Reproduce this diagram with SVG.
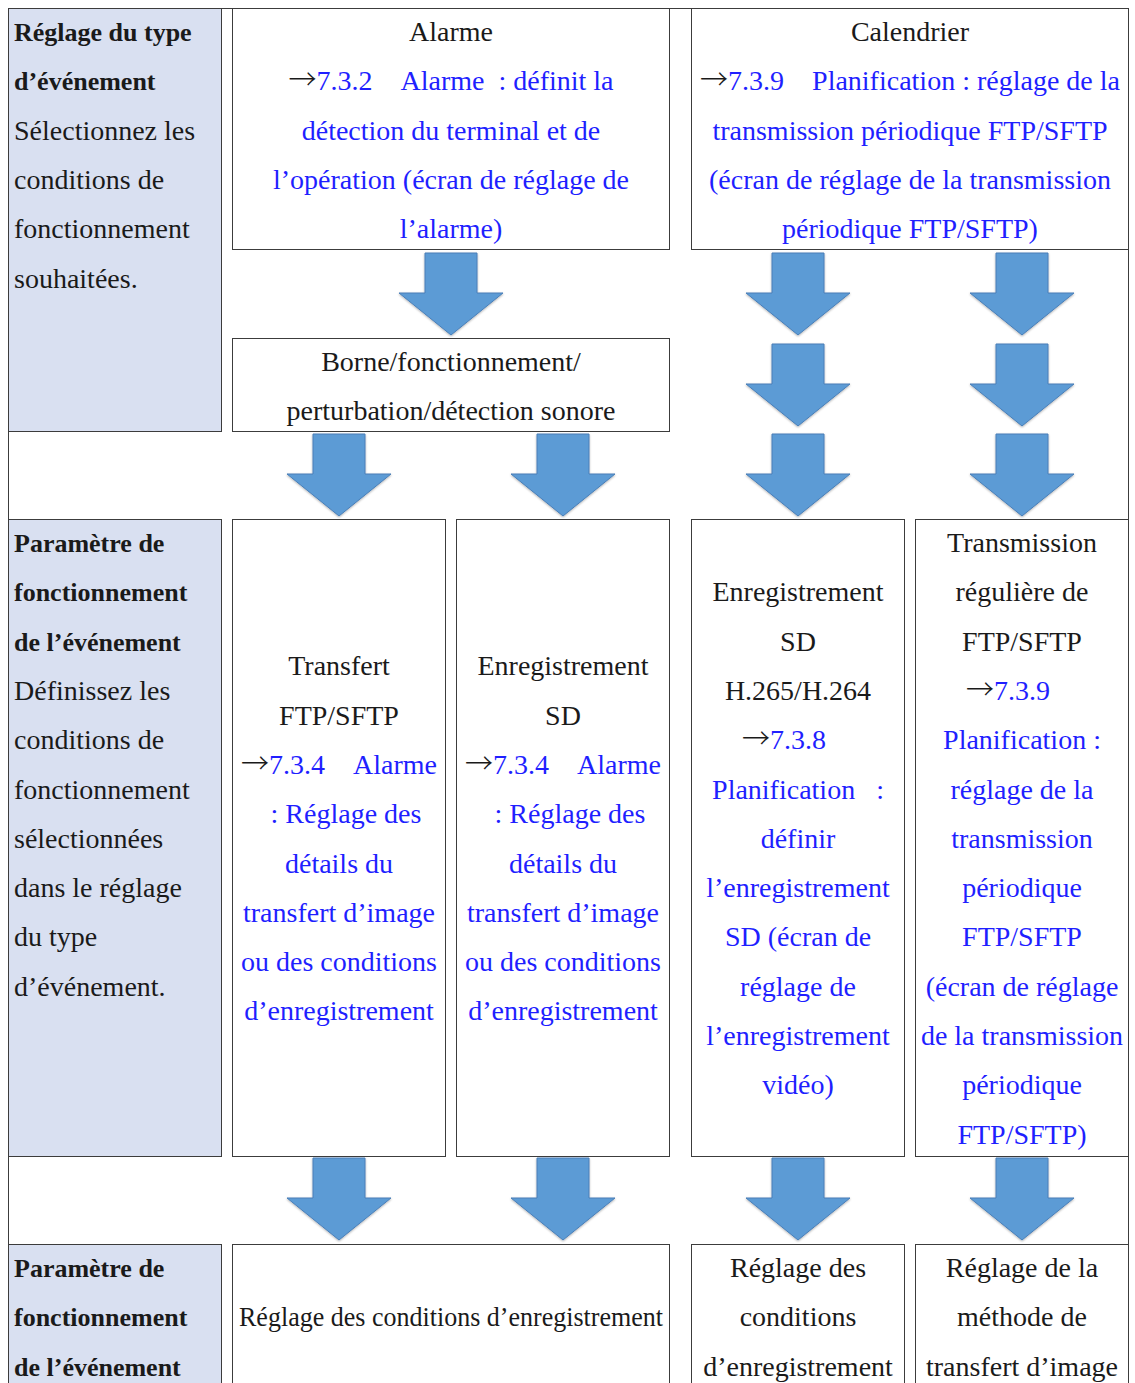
<svg xmlns="http://www.w3.org/2000/svg" xmlns:xlink="http://www.w3.org/1999/xlink" width="1135" height="1383" viewBox="0 0 1135 1383">
<style>
.t{font-family:"Liberation Serif","DejaVu Serif",serif;font-size:28px;fill:#1a1a1a}
.c{text-anchor:middle}
.b{font-weight:bold;font-size:26px}
.bl{fill:#1f1fff}
.ar{font-family:"Noto Sans CJK JP","DejaVu Sans",sans-serif;font-weight:300;fill:#1a1a1a}
.box{fill:#fff;stroke:#3c3c3c;stroke-width:1}
.hdr{fill:#D9E0F1;stroke:#3c3c3c;stroke-width:1}
.arrow{fill:#5B9BD5;stroke:#4A7FB8;stroke-width:1;filter:url(#sh)}
</style>
<defs>
<filter id="sh" x="-20%" y="-20%" width="140%" height="140%">
<feDropShadow dx="0" dy="1" stdDeviation="1" flood-color="#000" flood-opacity="0.3"/>
</filter>
<path id="arr" d="M-26 0H26V40H52L0 82L-52 40H-26Z"/>
</defs>
<rect width="1135" height="1383" fill="#fff"/>
<path d="M8.5 1383V8.5H1128.5V1383" fill="none" stroke="#3c3c3c" stroke-width="1"/>

<g id="hdr1">
<rect class="hdr" x="8.5" y="8.5" width="213" height="423"/>
<text class="t b" x="14" y="41">Réglage du type</text>
<text class="t b" x="14" y="90.3">d’événement</text>
<text class="t" x="14" y="139.6">Sélectionnez les</text>
<text class="t" x="14" y="188.9">conditions de</text>
<text class="t" x="14" y="238.2">fonctionnement</text>
<text class="t" x="14" y="287.5">souhaitées.</text>
</g>

<g id="alarme">
<rect class="box" x="232.5" y="8.5" width="437" height="241"/>
<text class="t c" x="451" y="41">Alarme</text>
<text class="t c" x="451" y="90.3"><tspan class="ar">→</tspan><tspan class="bl">7.3.2&#160;&#160;&#160;&#160;Alarme&#160;&#160;: définit la</tspan></text>
<text class="t c bl" x="451" y="139.6">détection du terminal et de</text>
<text class="t c bl" x="451" y="188.9">l’opération (écran de réglage de</text>
<text class="t c bl" x="451" y="238.2">l’alarme)</text>
</g>

<g id="calendrier">
<rect class="box" x="691.5" y="8.5" width="437" height="241"/>
<text class="t c" x="910" y="41">Calendrier</text>
<text class="t c" x="910" y="90.3"><tspan class="ar">→</tspan><tspan class="bl">7.3.9&#160;&#160;&#160;&#160;Planification : réglage de la</tspan></text>
<text class="t c bl" x="910" y="139.6">transmission périodique FTP/SFTP</text>
<text class="t c bl" x="910" y="188.9">(écran de réglage de la transmission</text>
<text class="t c bl" x="910" y="238.2">périodique FTP/SFTP)</text>
</g>

<g id="borne">
<rect class="box" x="232.5" y="338.5" width="437" height="93"/>
<text class="t c" x="451" y="371">Borne/fonctionnement/</text>
<text class="t c" x="451" y="420.3">perturbation/détection sonore</text>
</g>

<g id="hdr2">
<rect class="hdr" x="8.5" y="519.5" width="213" height="637"/>
<text class="t b" x="14" y="552">Paramètre de</text>
<text class="t b" x="14" y="601.3">fonctionnement</text>
<text class="t b" x="14" y="650.6">de l’événement</text>
<text class="t" x="14" y="699.9">Définissez les</text>
<text class="t" x="14" y="749.2">conditions de</text>
<text class="t" x="14" y="798.5">fonctionnement</text>
<text class="t" x="14" y="847.8">sélectionnées</text>
<text class="t" x="14" y="897.1">dans le réglage</text>
<text class="t" x="14" y="946.4">du type</text>
<text class="t" x="14" y="995.7">d’événement.</text>
</g>

<g id="transfert">
<rect class="box" x="232.5" y="519.5" width="213" height="637"/>
<text class="t c" x="339" y="675.3">Transfert</text>
<text class="t c" x="339" y="724.6">FTP/SFTP</text>
<text class="t c" x="339" y="773.9"><tspan class="ar">→</tspan><tspan class="bl">7.3.4&#160;&#160;&#160;&#160;Alarme</tspan></text>
<text class="t c bl" x="346" y="823.2">: Réglage des</text>
<text class="t c bl" x="339" y="872.5">détails du</text>
<text class="t c bl" x="339" y="921.8">transfert d’image</text>
<text class="t c bl" x="339" y="971.1">ou des conditions</text>
<text class="t c bl" x="339" y="1020.4">d’enregistrement</text>
</g>

<g id="enreg-sd">
<rect class="box" x="456.5" y="519.5" width="213" height="637"/>
<text class="t c" x="563" y="675.3">Enregistrement</text>
<text class="t c" x="563" y="724.6">SD</text>
<text class="t c" x="563" y="773.9"><tspan class="ar">→</tspan><tspan class="bl">7.3.4&#160;&#160;&#160;&#160;Alarme</tspan></text>
<text class="t c bl" x="570" y="823.2">: Réglage des</text>
<text class="t c bl" x="563" y="872.5">détails du</text>
<text class="t c bl" x="563" y="921.8">transfert d’image</text>
<text class="t c bl" x="563" y="971.1">ou des conditions</text>
<text class="t c bl" x="563" y="1020.4">d’enregistrement</text>
</g>

<g id="enreg-sd-h265">
<rect class="box" x="691.5" y="519.5" width="213" height="637"/>
<text class="t c" x="798" y="601.3">Enregistrement</text>
<text class="t c" x="798" y="650.6">SD</text>
<text class="t c" x="798" y="699.9">H.265/H.264</text>
<text class="t c" x="784" y="749.2"><tspan class="ar">→</tspan><tspan class="bl">7.3.8</tspan></text>
<text class="t c bl" x="798" y="798.5">Planification&#160;&#160;&#160;:</text>
<text class="t c bl" x="798" y="847.8">définir</text>
<text class="t c bl" x="798" y="897.1">l’enregistrement</text>
<text class="t c bl" x="798" y="946.4">SD (écran de</text>
<text class="t c bl" x="798" y="995.7">réglage de</text>
<text class="t c bl" x="798" y="1045">l’enregistrement</text>
<text class="t c bl" x="798" y="1094.3">vidéo)</text>
</g>

<g id="transmission">
<rect class="box" x="915.5" y="519.5" width="213" height="637"/>
<text class="t c" x="1022" y="552">Transmission</text>
<text class="t c" x="1022" y="601.3">régulière de</text>
<text class="t c" x="1022" y="650.6">FTP/SFTP</text>
<text class="t c" x="1008" y="699.9"><tspan class="ar">→</tspan><tspan class="bl">7.3.9</tspan></text>
<text class="t c bl" x="1022" y="749.2">Planification :</text>
<text class="t c bl" x="1022" y="798.5">réglage de la</text>
<text class="t c bl" x="1022" y="847.8">transmission</text>
<text class="t c bl" x="1022" y="897.1">périodique</text>
<text class="t c bl" x="1022" y="946.4">FTP/SFTP</text>
<text class="t c bl" x="1022" y="995.7">(écran de réglage</text>
<text class="t c bl" x="1022" y="1045">de la transmission</text>
<text class="t c bl" x="1022" y="1094.3">périodique</text>
<text class="t c bl" x="1022" y="1143.6">FTP/SFTP)</text>
</g>

<g id="hdr3">
<rect class="hdr" x="8.5" y="1244.5" width="213" height="150"/>
<text class="t b" x="14" y="1277">Paramètre de</text>
<text class="t b" x="14" y="1326.3">fonctionnement</text>
<text class="t b" x="14" y="1375.6">de l’événement</text>
</g>

<g id="reglage-cond">
<rect class="box" x="232.5" y="1244.5" width="437" height="150"/>
<text class="t c" x="451" y="1326.3" textLength="424" lengthAdjust="spacingAndGlyphs">Réglage des conditions d’enregistrement</text>
</g>

<g id="reglage-cond2">
<rect class="box" x="691.5" y="1244.5" width="213" height="150"/>
<text class="t c" x="798" y="1277">Réglage des</text>
<text class="t c" x="798" y="1326.3">conditions</text>
<text class="t c" x="798" y="1375.6">d’enregistrement</text>
</g>

<g id="reglage-methode">
<rect class="box" x="915.5" y="1244.5" width="213" height="150"/>
<text class="t c" x="1022" y="1277">Réglage de la</text>
<text class="t c" x="1022" y="1326.3">méthode de</text>
<text class="t c" x="1022" y="1375.6">transfert d’image</text>
</g>

<g id="connectors">
<use class="arrow" href="#arr" x="451" y="253"/>
<use class="arrow" href="#arr" x="798" y="253"/>
<use class="arrow" href="#arr" x="1022" y="253"/>
<use class="arrow" href="#arr" x="798" y="344"/>
<use class="arrow" href="#arr" x="1022" y="344"/>
<use class="arrow" href="#arr" x="339" y="434"/>
<use class="arrow" href="#arr" x="563" y="434"/>
<use class="arrow" href="#arr" x="798" y="434"/>
<use class="arrow" href="#arr" x="1022" y="434"/>
<use class="arrow" href="#arr" x="339" y="1158"/>
<use class="arrow" href="#arr" x="563" y="1158"/>
<use class="arrow" href="#arr" x="798" y="1158"/>
<use class="arrow" href="#arr" x="1022" y="1158"/>
</g>
</svg>
